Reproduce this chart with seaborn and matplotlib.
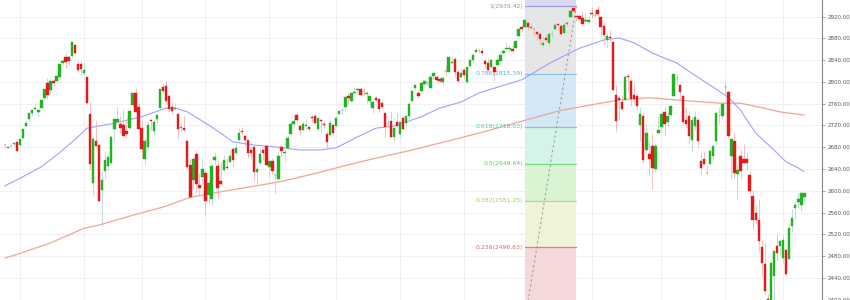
import numpy as np
import pandas as pd
import matplotlib
matplotlib.use("Agg")
import matplotlib.pyplot as plt
import seaborn as sns

# ---------------- data (daily candles, Dec 22 2017 .. Jan 11 2019) ----------------
opens = [
    2684.2, 2679.1, 2682.1, 2686.1, 2689.2,
    2683.7, 2697.9, 2719.3, 2731.3, 2742.7, 2751.2, 2745.6, 2753.0, 2770.2, 2799.0, 2785.0, 2802.4, 2802.6, 2809.2, 2835.1, 2845.4, 2846.2, 2847.5, 2867.2, 2832.7, 2832.4,
    2816.5, 2808.9, 2741.1, 2614.8, 2691.0, 2685.0, 2601.8, 2636.8, 2646.3, 2651.8, 2713.5, 2727.1, 2723.0, 2720.5, 2710.4, 2715.8, 2757.4, 2780.5, 2753.8,
    2715.2, 2658.9, 2681.1, 2730.2, 2710.2, 2732.8, 2752.9, 2790.5, 2792.3, 2774.1, 2754.3, 2750.6, 2741.4, 2715.1, 2715.0, 2691.4, 2646.7, 2619.4, 2667.6, 2611.3, 2625.5,
    2633.5, 2592.2, 2584.0, 2657.4, 2645.8, 2617.2, 2638.4, 2643.0, 2653.8, 2676.9, 2670.1, 2692.7, 2710.1, 2701.2, 2692.6, 2675.4, 2680.8, 2634.9, 2651.7, 2675.5, 2682.5,
    2643.0, 2654.2, 2628.1, 2621.5, 2680.3, 2670.3, 2678.1, 2705.0, 2722.7, 2738.5, 2718.6, 2712.6, 2719.7, 2717.4, 2735.4, 2738.3, 2714.0, 2730.9, 2723.6, 2705.1, 2702.4, 2721.0,
    2718.7, 2741.7, 2748.5, 2753.3, 2774.8, 2765.8, 2780.2, 2785.6, 2787.9, 2783.2, 2777.8, 2765.8, 2752.0, 2769.7, 2769.3, 2760.8, 2742.9, 2722.1, 2728.5, 2698.7, 2727.1,
    2705.0, 2733.3, 2724.2, 2737.7, 2765.8, 2788.6, 2779.8, 2783.1, 2796.9, 2797.4, 2789.3, 2811.4, 2809.4, 2804.6, 2799.2, 2820.7, 2817.7, 2835.5, 2842.4, 2819.0, 2809.7,
    2821.2, 2800.5, 2829.6, 2840.3, 2855.9, 2856.8, 2857.2, 2838.9, 2835.5, 2827.9, 2828.0, 2831.4, 2838.3, 2853.9, 2861.5, 2861.0, 2860.3, 2862.4, 2884.7, 2901.5, 2900.6, 2908.9, 2898.4,
    2897.0, 2891.6, 2888.6, 2868.3, 2881.4, 2871.6, 2888.3, 2896.9, 2906.4, 2903.8, 2890.7, 2906.6, 2919.7, 2936.8, 2921.8, 2921.8, 2917.0, 2911.7, 2910.0,
    2926.3, 2923.8, 2931.7, 2919.4, 2902.5, 2877.5, 2882.5, 2873.9, 2776.9, 2770.5, 2763.8, 2767.1, 2811.7, 2802.0, 2775.7, 2773.9, 2721.0, 2737.9, 2674.9, 2667.9, 2682.7, 2640.7, 2705.6,
    2717.6, 2745.5, 2726.4, 2738.4, 2774.1, 2806.4, 2794.1, 2773.9, 2730.1, 2737.9, 2693.5, 2718.5, 2730.7, 2654.6, 2657.7, 2633.4, 2650.0, 2663.8, 2691.5, 2737.0, 2737.8,
    2790.5, 2782.4, 2663.5, 2691.3, 2630.9, 2664.4, 2658.2, 2658.7, 2629.7, 2590.8, 2559.9, 2547.1, 2496.8, 2465.4, 2400.6, 2363.1, 2442.5, 2498.8, 2498.9,
    2477.0, 2491.9, 2474.3, 2535.6, 2568.1, 2580.0, 2573.5, 2588.1,
]
highs = [
    2685.4, 2682.7, 2685.6, 2688.0, 2692.1,
    2695.9, 2714.4, 2729.3, 2743.5, 2748.5, 2759.1, 2750.8, 2767.6, 2787.9, 2807.5, 2807.0, 2805.8, 2810.3, 2833.0, 2842.2, 2853.0, 2848.6, 2872.9, 2870.6, 2837.8, 2839.3,
    2836.0, 2808.9, 2763.4, 2701.0, 2727.7, 2685.3, 2638.7, 2672.6, 2668.8, 2702.1, 2731.5, 2754.4, 2737.6, 2747.8, 2731.3, 2747.8, 2780.6, 2789.2, 2761.5,
    2730.9, 2696.3, 2728.1, 2732.1, 2731.6, 2740.5, 2786.6, 2797.0, 2801.9, 2777.1, 2763.0, 2761.9, 2741.4, 2724.2, 2739.1, 2695.7, 2657.7, 2661.4, 2674.8, 2632.7, 2659.4,
    2638.3, 2619.1, 2649.9, 2672.1, 2656.9, 2653.6, 2665.5, 2661.4, 2674.7, 2680.3, 2686.5, 2713.3, 2717.5, 2702.8, 2693.9, 2682.9, 2683.6, 2645.3, 2676.5, 2677.4, 2682.9,
    2655.3, 2660.9, 2637.1, 2670.9, 2683.4, 2676.3, 2701.3, 2726.1, 2732.9, 2742.1, 2718.6, 2727.8, 2732.0, 2719.5, 2739.2, 2742.2, 2733.3, 2732.0, 2727.4, 2710.7, 2729.3, 2722.5,
    2736.9, 2749.2, 2752.6, 2772.4, 2779.9, 2779.4, 2790.2, 2789.8, 2791.5, 2789.1, 2782.8, 2775.0, 2765.1, 2774.9, 2769.3, 2764.2, 2742.9, 2732.9, 2746.1, 2724.3, 2743.3,
    2727.3, 2736.6, 2737.8, 2764.4, 2784.7, 2795.6, 2785.9, 2799.2, 2804.5, 2801.2, 2814.2, 2816.8, 2812.1, 2809.7, 2808.6, 2829.0, 2848.0, 2845.6, 2843.2, 2821.7, 2824.5,
    2825.8, 2829.9, 2840.4, 2853.3, 2863.4, 2862.4, 2862.5, 2842.2, 2843.4, 2843.1, 2828.0, 2850.5, 2855.6, 2859.8, 2873.2, 2867.5, 2868.8, 2876.2, 2898.3, 2903.8, 2916.5, 2912.5, 2906.3,
    2900.2, 2894.2, 2892.1, 2883.8, 2886.9, 2892.5, 2894.7, 2906.8, 2908.3, 2904.7, 2911.2, 2912.4, 2934.8, 2940.9, 2923.8, 2924.0, 2931.2, 2927.2, 2920.5,
    2937.1, 2931.4, 2939.9, 2919.8, 2909.6, 2889.5, 2894.8, 2874.0, 2795.1, 2775.8, 2776.0, 2813.5, 2816.9, 2806.0, 2797.8, 2778.9, 2753.6, 2742.6, 2722.7, 2692.4, 2706.9, 2685.4, 2736.7,
    2741.7, 2756.6, 2744.3, 2756.8, 2815.2, 2814.8, 2794.1, 2776.0, 2754.6, 2746.8, 2735.4, 2746.8, 2733.2, 2669.4, 2670.7, 2647.6, 2674.4, 2682.5, 2744.0, 2753.8, 2760.9,
    2800.2, 2785.9, 2696.2, 2708.5, 2647.5, 2674.4, 2685.4, 2670.2, 2635.1, 2601.1, 2574.0, 2585.3, 2509.6, 2504.4, 2410.3, 2467.8, 2489.1, 2520.3, 2509.2,
    2519.5, 2493.1, 2538.1, 2566.2, 2579.8, 2595.3, 2597.8, 2596.3,
]
lows = [
    2678.1, 2678.0, 2678.9, 2682.7, 2673.6,
    2682.4, 2697.8, 2719.1, 2727.9, 2737.6, 2747.9, 2736.1, 2752.8, 2769.6, 2768.6, 2778.4, 2792.6, 2798.1, 2808.1, 2830.6, 2824.8, 2830.9, 2846.2, 2851.5, 2818.3, 2813.0,
    2812.7, 2760.0, 2638.2, 2593.1, 2681.3, 2580.6, 2532.7, 2622.4, 2637.1, 2648.9, 2689.8, 2725.1, 2706.8, 2701.3, 2697.8, 2713.7, 2753.8, 2744.2, 2713.5,
    2659.7, 2647.3, 2675.8, 2711.3, 2701.7, 2721.9, 2751.5, 2779.3, 2758.7, 2744.4, 2741.5, 2750.0, 2694.6, 2710.1, 2709.8, 2641.6, 2585.9, 2601.8, 2596.1, 2593.1, 2609.7,
    2553.8, 2575.5, 2573.6, 2649.6, 2586.3, 2610.8, 2635.8, 2639.3, 2653.8, 2645.1, 2665.2, 2692.1, 2703.6, 2681.9, 2660.6, 2658.0, 2617.3, 2612.7, 2647.2, 2659.0, 2648.0,
    2625.4, 2631.7, 2594.6, 2615.3, 2664.7, 2655.2, 2674.1, 2704.5, 2717.5, 2725.5, 2701.9, 2712.2, 2711.4, 2709.2, 2725.7, 2721.9, 2709.5, 2707.4, 2715.0, 2676.8, 2702.4, 2700.7,
    2718.7, 2740.5, 2739.5, 2748.5, 2760.2, 2763.6, 2780.2, 2778.8, 2774.7, 2776.5, 2761.7, 2757.1, 2743.2, 2763.9, 2744.4, 2752.7, 2698.7, 2715.6, 2699.4, 2692.0, 2718.0,
    2699.0, 2711.2, 2716.0, 2733.5, 2765.8, 2786.2, 2770.8, 2781.5, 2791.7, 2793.4, 2789.2, 2805.9, 2799.8, 2800.0, 2795.1, 2811.1, 2817.7, 2835.3, 2808.3, 2798.1, 2808.1,
    2805.9, 2796.3, 2827.4, 2836.0, 2855.9, 2853.1, 2848.5, 2825.8, 2819.9, 2826.6, 2802.5, 2831.4, 2833.7, 2850.6, 2861.3, 2856.1, 2854.0, 2862.4, 2884.7, 2893.5, 2898.4, 2895.2, 2895.8,
    2885.1, 2876.9, 2867.3, 2864.1, 2875.9, 2866.8, 2879.2, 2896.4, 2895.8, 2886.2, 2890.4, 2903.8, 2919.7, 2927.1, 2912.6, 2913.7, 2903.3, 2909.3, 2907.5,
    2917.9, 2919.4, 2921.4, 2883.9, 2869.3, 2862.1, 2874.3, 2784.9, 2710.5, 2729.4, 2749.0, 2766.9, 2781.8, 2755.2, 2760.3, 2749.2, 2691.4, 2651.9, 2667.8, 2628.2, 2603.5, 2635.3, 2705.6,
    2708.9, 2700.4, 2717.9, 2737.1, 2774.1, 2795.0, 2764.2, 2722.0, 2715.0, 2685.8, 2670.8, 2712.2, 2681.1, 2631.5, 2649.8, 2631.1, 2650.0, 2655.9, 2684.4, 2722.9, 2732.8,
    2773.4, 2697.2, 2621.5, 2623.1, 2583.2, 2621.3, 2650.3, 2637.3, 2593.8, 2530.5, 2538.1, 2489.0, 2441.2, 2408.6, 2351.1, 2346.6, 2397.9, 2472.9, 2482.8,
    2467.5, 2444.0, 2474.3, 2524.6, 2547.6, 2568.9, 2562.0, 2577.4,
]
closes = [
    2683.3, 2680.5, 2682.6, 2687.5, 2673.6,
    2695.8, 2713.1, 2724.0, 2743.2, 2747.7, 2751.3, 2748.2, 2767.6, 2786.2, 2776.4, 2802.6, 2798.0, 2810.3, 2833.0, 2839.1, 2837.5, 2839.3, 2872.9, 2853.5, 2822.4, 2823.8,
    2822.0, 2762.1, 2648.9, 2695.1, 2681.7, 2581.0, 2619.6, 2656.0, 2662.9, 2698.6, 2731.2, 2732.2, 2716.3, 2701.3, 2704.0, 2747.3, 2779.6, 2744.3, 2713.8,
    2677.7, 2691.3, 2720.9, 2728.1, 2726.8, 2739.0, 2786.6, 2783.0, 2765.3, 2749.5, 2747.3, 2752.0, 2712.9, 2716.9, 2711.9, 2643.7, 2588.3, 2658.6, 2612.6, 2605.0, 2640.9,
    2581.9, 2614.5, 2644.7, 2662.8, 2604.5, 2613.2, 2656.9, 2642.2, 2664.0, 2656.3, 2677.8, 2706.4, 2708.6, 2693.1, 2670.1, 2670.3, 2634.6, 2639.4, 2666.9, 2669.9, 2648.1,
    2654.8, 2635.7, 2629.7, 2663.4, 2672.6, 2671.9, 2697.8, 2723.1, 2727.7, 2730.1, 2711.5, 2722.5, 2720.1, 2713.0, 2733.0, 2724.4, 2733.3, 2727.8, 2721.3, 2689.9, 2724.0, 2705.3,
    2734.6, 2746.9, 2748.8, 2772.4, 2770.4, 2779.0, 2782.0, 2786.9, 2775.6, 2782.5, 2779.7, 2773.8, 2762.6, 2767.3, 2749.8, 2754.9, 2717.1, 2723.1, 2699.6, 2716.3, 2718.4,
    2726.7, 2713.2, 2736.6, 2759.8, 2784.2, 2793.8, 2774.0, 2798.3, 2801.3, 2798.4, 2809.6, 2815.6, 2804.5, 2801.8, 2807.0, 2820.4, 2846.1, 2837.4, 2818.8, 2802.6, 2816.3,
    2813.4, 2827.2, 2840.4, 2850.4, 2858.5, 2857.7, 2853.6, 2833.3, 2821.9, 2840.0, 2818.4, 2840.7, 2850.1, 2857.1, 2863.0, 2861.8, 2857.0, 2874.7, 2896.7, 2897.5, 2914.0, 2901.1, 2901.5,
    2896.7, 2888.6, 2878.1, 2871.7, 2877.1, 2887.9, 2888.9, 2904.2, 2905.0, 2888.8, 2904.3, 2908.0, 2930.8, 2929.7, 2919.4, 2915.6, 2906.0, 2914.0, 2914.0,
    2924.6, 2923.4, 2925.5, 2901.6, 2885.6, 2884.4, 2880.3, 2785.7, 2728.4, 2767.1, 2750.8, 2809.9, 2809.2, 2768.8, 2767.8, 2755.9, 2740.7, 2656.1, 2705.6, 2658.7, 2641.3, 2682.6, 2711.7,
    2740.4, 2723.1, 2738.3, 2755.5, 2813.9, 2806.8, 2781.0, 2726.2, 2722.2, 2701.6, 2730.2, 2736.3, 2690.7, 2641.9, 2649.9, 2632.6, 2673.5, 2682.2, 2743.8, 2737.8, 2760.2,
    2790.4, 2700.1, 2696.0, 2633.1, 2637.7, 2636.8, 2651.1, 2650.5, 2600.0, 2545.9, 2546.2, 2507.0, 2467.4, 2416.6, 2351.1, 2467.7, 2488.8, 2485.7, 2506.9,
    2510.0, 2447.9, 2531.9, 2549.7, 2574.4, 2585.0, 2596.6, 2596.3,
]

# month-start candles (vertical grid)
month_start_n = [5, 26, 45, 66, 87, 109, 130, 151, 174, 193, 216, 237, 256]

# price axis ticks
price_ticks = [2400, 2440, 2480, 2520, 2560, 2600, 2640, 2680, 2720, 2760, 2800, 2840, 2880, 2920]

# moving averages (candle number, value)
ma50_n = [0, 5, 12, 18, 24, 27, 35, 45, 53, 56, 60, 67, 71, 75, 82, 90, 97, 104, 109, 116, 122,
          128, 137, 143, 150, 156, 170, 180, 189, 197, 202, 207, 213, 221, 226, 232, 238, 242,
          247, 253, 257, 261, 263]
ma50_v = [2609, 2623, 2644, 2670, 2699, 2715, 2723, 2736, 2752, 2752, 2745, 2721, 2706, 2690,
          2684, 2680, 2675, 2675, 2679, 2699, 2715, 2719, 2736, 2752, 2763, 2780, 2804, 2837,
          2862, 2877, 2881, 2872, 2853, 2835, 2816, 2794, 2772, 2748, 2706, 2675, 2653, 2642, 2635]
ma200_n = [0, 5, 15, 26, 31, 42, 52, 61, 74, 90, 100, 109, 119, 134, 156, 183, 202, 212, 221,
           235, 242, 248, 255, 263]
ma200_v = [2476, 2485, 2504, 2531, 2537, 2555, 2570, 2588, 2601, 2616, 2629, 2642, 2656, 2675,
           2706, 2748, 2767, 2771, 2767, 2761, 2761, 2754, 2745, 2739]

# Fibonacci retracement
fib_start_n, fib_end_n = 171, 188
fib_low, fib_high = 2359.86, 2939.42
fib_ratios = ["1", "0.786", "0.618", "0.5", "0.382", "0.236"]
fib_values = [2939.42, 2815.39, 2718.03, 2649.64, 2581.25, 2496.63]

# ---------------- styling ----------------
sns.set_theme(style="white")
plt.rcParams["font.family"] = ["DejaVu Sans"]

GREEN = "#22b322"
RED = "#e31a1a"
WICK_UP = "#b7d6da"
WICK_DN = "#f3b5b5"

fib_line_colors = ["#9a9ad8", "#8cc3e6", "#6fd3b5", "#77d877", "#bcd870", "#e07d7d"]
fib_text_colors = ["#999999", "#5aaee0", "#4cc9a0", "#5ccc5c", "#aacb55", "#e06464"]
fib_band_colors = ["#e6e6e6", "#d4e8f5", "#d5f3ea", "#d9f3d3", "#edf4d8", "#f5d8d8"]
fib_top_color = "#d8d8f5"

fig = plt.figure(figsize=(8.5, 3), dpi=100)
ax = fig.add_axes([0, 0, 822 / 850, 1])

y_min, y_max = 2399.2, 2950.7
x_min, x_max = -1.6, 268.8

# grid
for v in price_ticks:
    ax.axhline(v, color="#f0f0f0", lw=0.7, zorder=0)
for m in month_start_n:
    ax.axvline(m, color="#f0f0f0", lw=0.7, zorder=0)

# fib bands
levels_all = fib_values + [fib_low]
ax.fill_between([fib_start_n, fib_end_n], fib_high, y_max + 20, color=fib_top_color, lw=0, zorder=1)
for i in range(len(fib_values)):
    ax.fill_between([fib_start_n, fib_end_n], levels_all[i + 1], levels_all[i],
                    color=fib_band_colors[i], lw=0, zorder=1)
for r, v, lc, tc in zip(fib_ratios, fib_values, fib_line_colors, fib_text_colors):
    ax.plot([fib_start_n, fib_end_n], [v, v], color=lc, lw=0.9, zorder=2)
    ax.text(fib_start_n - 0.5, v, f"{r}({v:.2f})", color=tc, fontsize=4.4,
            ha="right", va="center", zorder=5)
ax.plot([fib_start_n, fib_end_n], [fib_low, fib_high], color="#9a9a9a", lw=0.7,
        ls=(0, (2.5, 2.5)), zorder=3)

# moving averages
sns.lineplot(x=ma200_n, y=ma200_v, ax=ax, color="#f2a595", lw=0.9, zorder=3)
sns.lineplot(x=ma50_n, y=ma50_v, ax=ax, color="#a0a0ff", lw=0.8, zorder=3)

# candles
df = pd.DataFrame({"o": opens, "h": highs, "l": lows, "c": closes})
df["n"] = np.arange(len(df))
up = df["c"] >= df["o"]
dn = ~up
ax.vlines(df.n[up], df.l[up], df.h[up], color=WICK_UP, lw=0.6, zorder=4)
ax.vlines(df.n[dn], df.l[dn], df.h[dn], color=WICK_DN, lw=0.6, zorder=4)
ax.bar(df.n[up], (df.c - df.o)[up], bottom=df.o[up], width=0.8, color=GREEN,
       edgecolor=GREEN, linewidth=0.3, zorder=5)
ax.bar(df.n[dn], (df.c - df.o)[dn], bottom=df.o[dn], width=0.8, color=RED,
       edgecolor=RED, linewidth=0.3, zorder=5)

ax.set_xlim(x_min, x_max)
ax.set_ylim(y_min, y_max)
ax.set_xlabel("")
ax.set_ylabel("")
ax.set_xticks([])
ax.yaxis.tick_right()
ax.set_yticks(price_ticks)
ax.set_yticklabels([f"{v:.2f}" for v in price_ticks])
ax.tick_params(axis="y", right=True, length=2.5, width=0.5, color="#888888",
               labelsize=4.0, labelcolor="#555555", pad=1.5)
for s in ["top", "left", "bottom"]:
    ax.spines[s].set_visible(False)
ax.spines["right"].set_color("#888888")
ax.spines["right"].set_linewidth(0.8)
ax.set_facecolor("white")
fig.patch.set_facecolor("white")

fig.savefig("out.png", dpi=100, facecolor="white")
